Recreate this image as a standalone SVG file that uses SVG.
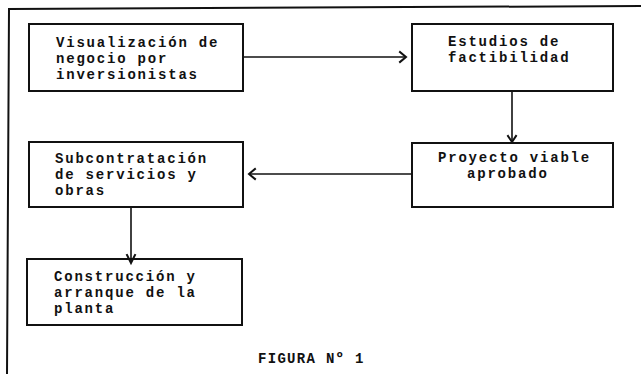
<svg xmlns="http://www.w3.org/2000/svg" width="641" height="374" viewBox="0 0 641 374">
  <style>
    .box { fill: none; stroke: #111; stroke-width: 2; }
    .conn { fill: none; stroke: #111; stroke-width: 1.6; }
    .head { fill: none; stroke: #111; stroke-width: 2; stroke-linecap: square; }
    .t { font-family: "Liberation Mono", "Courier New", monospace; font-weight: bold; font-size: 14px; letter-spacing: 1.8px; fill: #111; }
    .cap { font-family: "Liberation Mono", "Courier New", monospace; font-weight: bold; font-size: 14px; letter-spacing: 1.3px; fill: #111; }
  </style>
  <rect width="641" height="374" fill="#ffffff"/>
  <path id="frame" d="M641,6 L9,9 L7,374" fill="none" stroke="#111" stroke-width="2"/>

  <g id="connectors">
    <line class="conn" x1="243" y1="57" x2="406" y2="57"/>
    <polyline class="head" points="400,52 406,57 400,62"/>
    <line class="conn" x1="512" y1="91" x2="512" y2="141"/>
    <polyline class="head" points="508,136 512,142 516,136"/>
    <line class="conn" x1="412" y1="174" x2="249" y2="174"/>
    <polyline class="head" points="255,169 249,174 255,179"/>
    <line class="conn" x1="131" y1="207" x2="131" y2="262"/>
    <polyline class="head" points="127,255 131,263 135,255"/>
  </g>

  <g id="n1">
    <rect class="box" x="29" y="24" width="214" height="67"/>
    <text class="t" x="56" y="47">Visualización de</text>
    <text class="t" x="56" y="63">negocio por</text>
    <text class="t" x="56" y="79">inversionistas</text>
  </g>
  <g id="n2">
    <rect class="box" x="412" y="24" width="201" height="67"/>
    <text class="t" x="448" y="46">Estudios de</text>
    <text class="t" x="448" y="62">factibilidad</text>
  </g>
  <g id="n3">
    <rect class="box" x="412" y="143" width="201" height="64"/>
    <text class="t" x="438" y="162">Proyecto viable</text>
    <text class="t" x="467" y="178">aprobado</text>
  </g>
  <g id="n4">
    <rect class="box" x="29" y="142" width="214" height="65"/>
    <text class="t" x="55" y="163">Subcontratación</text>
    <text class="t" x="55" y="179">de servicios y</text>
    <text class="t" x="55" y="195">obras</text>
  </g>
  <g id="n5">
    <rect class="box" x="27" y="259" width="215" height="66"/>
    <text class="t" x="54" y="281">Construcción y</text>
    <text class="t" x="54" y="297">arranque de la</text>
    <text class="t" x="54" y="313">planta</text>
  </g>
  <text id="caption" class="cap" x="258" y="363">FIGURA Nº 1</text>
</svg>
